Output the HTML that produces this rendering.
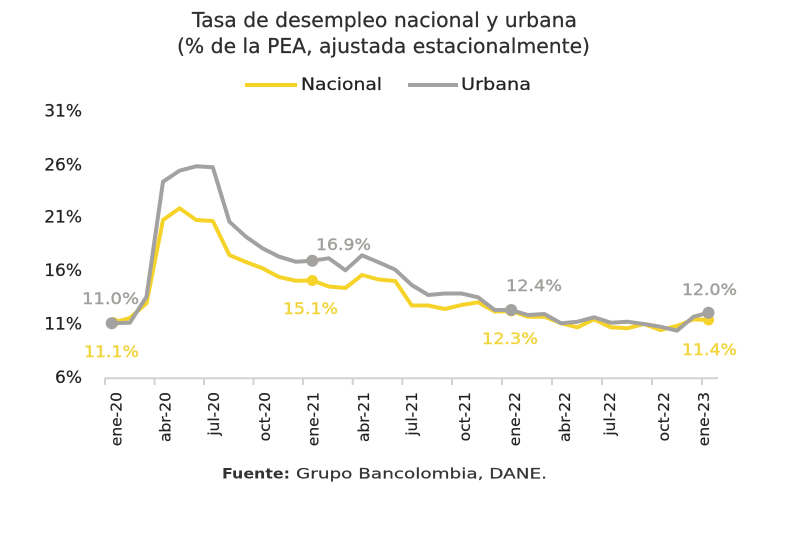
<!DOCTYPE html>
<html>
<head>
<meta charset="utf-8">
<style>
  html, body { margin: 0; padding: 0; background: #ffffff; }
  svg { display: block; }
  text { font-family: "DejaVu Sans", "Liberation Sans", sans-serif; }
</style>
</head>
<body>
<svg width="800" height="533" viewBox="0 0 800 533" xmlns="http://www.w3.org/2000/svg">
  <rect x="0" y="0" width="800" height="533" fill="#ffffff"/>

  <!-- Title -->
  <text x="192" y="27" font-size="20" fill="#2e2e2e" stroke="#2e2e2e" stroke-width="0.25" textLength="385" lengthAdjust="spacingAndGlyphs">Tasa de desempleo nacional y urbana</text>
  <text x="177" y="53" font-size="20" fill="#2e2e2e" stroke="#2e2e2e" stroke-width="0.25" textLength="413" lengthAdjust="spacingAndGlyphs">(% de la PEA, ajustada estacionalmente)</text>

  <!-- Legend -->
  <line x1="245" y1="85" x2="297" y2="85" stroke="#f5d329" stroke-width="4"/>
  <text x="301" y="90" font-size="16.5" fill="#222222" stroke="#222222" stroke-width="0.25" textLength="81" lengthAdjust="spacingAndGlyphs">Nacional</text>
  <line x1="408" y1="85" x2="458" y2="85" stroke="#a3a2a0" stroke-width="4"/>
  <text x="461" y="90" font-size="16.5" fill="#222222" stroke="#222222" stroke-width="0.25" textLength="70" lengthAdjust="spacingAndGlyphs">Urbana</text>

  <!-- Y axis labels -->
  <g font-size="17" fill="#222222" stroke="#222222" stroke-width="0.2" text-anchor="end">
    <text x="82" y="116.7">31%</text>
    <text x="82" y="170.7">26%</text>
    <text x="82" y="222.7">21%</text>
    <text x="82" y="276.2">16%</text>
    <text x="82" y="329.7">11%</text>
    <text x="82" y="383.2">6%</text>
  </g>

  <!-- X axis -->
  <line x1="105" y1="378.3" x2="718" y2="378.3" stroke="#d2d2d2" stroke-width="2"/>
  <g stroke="#d2d2d2" stroke-width="2">
    <line x1="105" y1="378" x2="105" y2="385"/>
    <line x1="154.5" y1="378" x2="154.5" y2="385"/>
    <line x1="204" y1="378" x2="204" y2="385"/>
    <line x1="253.5" y1="378" x2="253.5" y2="385"/>
    <line x1="303" y1="378" x2="303" y2="385"/>
    <line x1="352.7" y1="378" x2="352.7" y2="385"/>
    <line x1="402.3" y1="378" x2="402.3" y2="385"/>
    <line x1="452" y1="378" x2="452" y2="385"/>
    <line x1="502" y1="378" x2="502" y2="385"/>
    <line x1="552" y1="378" x2="552" y2="385"/>
    <line x1="602" y1="378" x2="602" y2="385"/>
    <line x1="652" y1="378" x2="652" y2="385"/>
    <line x1="702" y1="378" x2="702" y2="385"/>
  </g>

  <!-- X axis labels (rotated) -->
  <g font-size="15.5" fill="#222222" stroke="#222222" stroke-width="0.2" text-anchor="end">
    <text transform="translate(121.7,392) rotate(-90)">ene-20</text>
    <text transform="translate(170.5,392) rotate(-90)">abr-20</text>
    <text transform="translate(219,392) rotate(-90)">jul-20</text>
    <text transform="translate(270,392) rotate(-90)">oct-20</text>
    <text transform="translate(318.5,392) rotate(-90)">ene-21</text>
    <text transform="translate(369,392) rotate(-90)">abr-21</text>
    <text transform="translate(417,392) rotate(-90)">jul-21</text>
    <text transform="translate(470,392) rotate(-90)">oct-21</text>
    <text transform="translate(520,392) rotate(-90)">ene-22</text>
    <text transform="translate(570,392) rotate(-90)">abr-22</text>
    <text transform="translate(615,392) rotate(-90)">jul-22</text>
    <text transform="translate(669,392) rotate(-90)">oct-22</text>
    <text transform="translate(709,392) rotate(-90)">ene-23</text>
  </g>

  <!-- Nacional series -->
  <polyline fill="none" stroke="#f5d329" stroke-width="4" stroke-linejoin="round" stroke-linecap="round"
    points="113.3,322.5 129.9,318 146.5,303.3 163,220 179.6,208.3 196.2,220 212.8,221 229.4,255 245.9,262 262.5,268.3 279.1,277 295.7,280.7 312.3,280.5 328.8,286.5 345.4,288 362,275 378.6,279.5 395.2,281 411.7,305.5 428.3,305.5 444.9,309 461.5,305 478.1,302.3 494.6,311.5 511.2,311 527.8,316.7 544.4,316.7 561,323.3 577.5,327.3 594.1,319.3 610.7,327.3 627.3,328.3 643.9,324 660.4,330 677,326 693.6,319.3 708.5,320"/>
  <g fill="#f5d329">
    <circle cx="113.3" cy="322.5" r="5.5"/>
    <circle cx="312.3" cy="280.5" r="5.5"/>
    <circle cx="511.2" cy="311" r="5.5"/>
    <circle cx="708.5" cy="320" r="5.5"/>
  </g>

  <!-- Urbana series -->
  <polyline fill="none" stroke="#a3a2a0" stroke-width="4" stroke-linejoin="round" stroke-linecap="round"
    points="113.3,323.3 129.9,322.7 146.5,296.7 163,181.7 179.6,170.7 196.2,166.3 212.8,167.3 229.4,221.7 245.9,236.7 262.5,248.3 279.1,256.7 295.7,261.7 312.3,260.7 328.8,258.3 345.4,270.3 362,255.3 378.6,262.3 395.2,269.7 411.7,285 428.3,295 444.9,293.5 461.5,293.5 478.1,297.3 494.6,310 511.2,310 527.8,315 544.4,314 561,323.3 577.5,321.7 594.1,317.3 610.7,322.7 627.3,321.7 643.9,324 660.4,326.7 677,330.7 693.6,316.7 708.5,312.7"/>
  <g fill="#a3a2a0">
    <circle cx="111.7" cy="323.3" r="6"/>
    <circle cx="312.3" cy="260.7" r="6"/>
    <circle cx="511.2" cy="310" r="6"/>
    <circle cx="708.5" cy="312.7" r="6"/>
  </g>

  <!-- Data labels -->
  <g font-size="16" stroke-width="0.4">
    <text x="82" y="304" fill="#a09f9c" stroke="#a09f9c" textLength="57" lengthAdjust="spacingAndGlyphs">11.0%</text>
    <text x="84" y="357" fill="#f2d43c" stroke="#f2d43c" textLength="55" lengthAdjust="spacingAndGlyphs">11.1%</text>
    <text x="283" y="314" fill="#f2d43c" stroke="#f2d43c" textLength="55" lengthAdjust="spacingAndGlyphs">15.1%</text>
    <text x="316" y="250" fill="#a09f9c" stroke="#a09f9c" textLength="55" lengthAdjust="spacingAndGlyphs">16.9%</text>
    <text x="506" y="291" fill="#a09f9c" stroke="#a09f9c" textLength="56" lengthAdjust="spacingAndGlyphs">12.4%</text>
    <text x="482" y="344" fill="#f2d43c" stroke="#f2d43c" textLength="56" lengthAdjust="spacingAndGlyphs">12.3%</text>
    <text x="682" y="295" fill="#a09f9c" stroke="#a09f9c" textLength="55" lengthAdjust="spacingAndGlyphs">12.0%</text>
    <text x="682" y="355" fill="#f2d43c" stroke="#f2d43c" textLength="55" lengthAdjust="spacingAndGlyphs">11.4%</text>
  </g>

  <!-- Source -->
  <text x="222" y="478.3" font-size="14.5" font-weight="bold" fill="#333333" textLength="68" lengthAdjust="spacingAndGlyphs">Fuente:</text>
  <text x="296" y="478.3" font-size="14.5" fill="#333333" stroke="#333333" stroke-width="0.2" textLength="251" lengthAdjust="spacingAndGlyphs">Grupo Bancolombia, DANE.</text>
</svg>
</body>
</html>
